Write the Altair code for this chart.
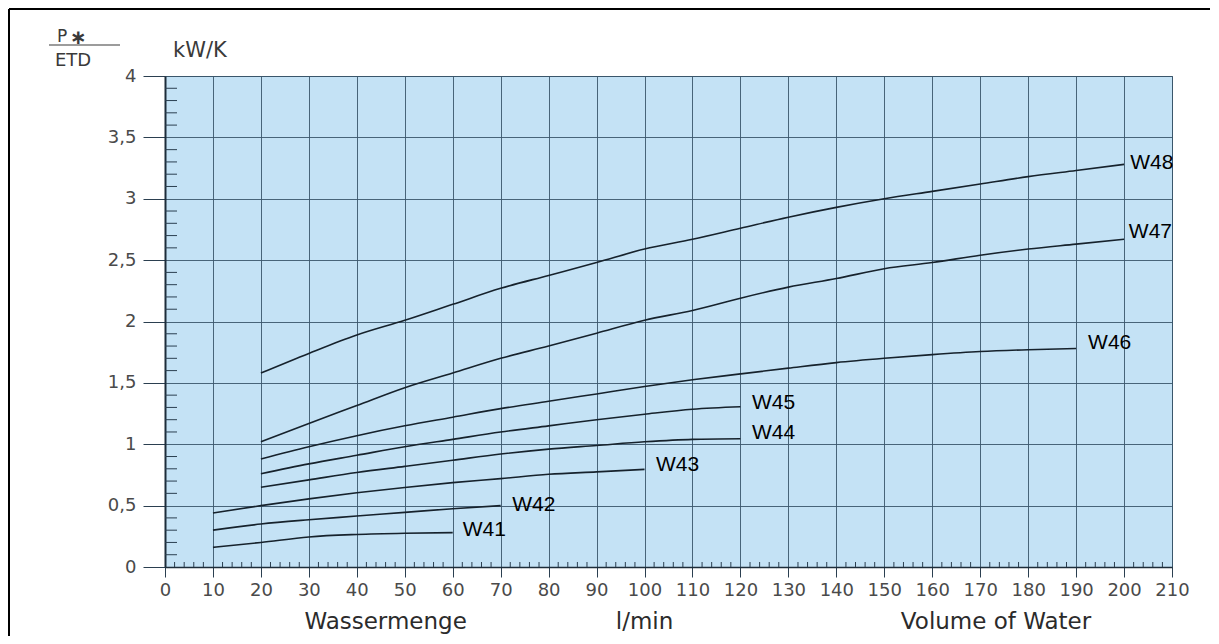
import altair as alt
import pandas as pd

# ---------------- data ----------------
series_names = ["W41", "W42", "W43", "W44", "W45", "W46", "W47", "W48"]

x_W41 = [10, 20, 30, 40, 50, 60]
y_W41 = [0.16, 0.20, 0.245, 0.265, 0.275, 0.28]

x_W42 = [10, 20, 30, 40, 50, 60, 70]
y_W42 = [0.30, 0.35, 0.385, 0.415, 0.445, 0.475, 0.50]

x_W43 = [10, 20, 30, 40, 50, 60, 70, 80, 90, 100]
y_W43 = [0.44, 0.50, 0.555, 0.605, 0.648, 0.687, 0.72, 0.755, 0.775, 0.795]

x_W44 = [20, 30, 40, 50, 60, 70, 80, 90, 100, 110, 120]
y_W44 = [0.65, 0.71, 0.77, 0.82, 0.87, 0.92, 0.96, 0.99, 1.02, 1.04, 1.045]

x_W45 = [20, 30, 40, 50, 60, 70, 80, 90, 100, 110, 120]
y_W45 = [0.76, 0.84, 0.91, 0.98, 1.04, 1.10, 1.15, 1.20, 1.245, 1.285, 1.305]

x_W46 = [20, 30, 40, 50, 60, 70, 80, 90, 100, 110, 120, 130, 140, 150, 160, 170, 180, 190]
y_W46 = [0.88, 0.98, 1.07, 1.15, 1.22, 1.29, 1.35, 1.41, 1.47, 1.525, 1.573, 1.62,
         1.665, 1.70, 1.73, 1.755, 1.77, 1.78]

x_W47 = [20, 30, 40, 50, 60, 70, 80, 90, 100, 110, 120, 130, 140, 150, 160, 170, 180, 190, 200]
y_W47 = [1.02, 1.17, 1.315, 1.46, 1.58, 1.70, 1.80, 1.905, 2.01, 2.09, 2.19, 2.28,
         2.35, 2.43, 2.48, 2.54, 2.59, 2.63, 2.67]

x_W48 = [20, 30, 40, 50, 60, 70, 80, 90, 100, 110, 120, 130, 140, 150, 160, 170, 180, 190, 200]
y_W48 = [1.58, 1.74, 1.89, 2.01, 2.14, 2.27, 2.375, 2.48, 2.59, 2.67, 2.76, 2.85,
         2.93, 3.00, 3.06, 3.12, 3.18, 3.23, 3.28]

# curve label anchors (data units)
label_x = [62.1, 72.4, 102.4, 122.4, 122.4, 192.5, 201.0, 201.3]
label_y = [0.30, 0.505, 0.83, 1.09, 1.336, 1.825, 2.73, 3.29]

# axis ticks
x_ticks = list(range(0, 211, 10))
y_ticks = [0, 0.5, 1, 1.5, 2, 2.5, 3, 3.5, 4]
x_minor = [v for v in range(0, 211, 2) if v % 10 != 0]
y_minor = [round(i / 10, 1) for i in range(0, 41) if i % 5 != 0]

# bottom titles
title_text = ["Wassermenge", "l/min", "Volume of Water"]
title_x = [46, 100, 173.3]

# ---------------- build tables ----------------
xs_all = [x_W41, x_W42, x_W43, x_W44, x_W45, x_W46, x_W47, x_W48]
ys_all = [y_W41, y_W42, y_W43, y_W44, y_W45, y_W46, y_W47, y_W48]
rows = []
for name, xs, ys in zip(series_names, xs_all, ys_all):
    for a, b in zip(xs, ys):
        rows.append({"series": name, "flow": a, "power": b})
curves = pd.DataFrame(rows)
labels = pd.DataFrame({"series": series_names, "lx": label_x, "ly": label_y})
titles = pd.DataFrame({"t": title_text, "tx": title_x})
minor_x_df = pd.DataFrame({"v": x_minor})
minor_y_df = pd.DataFrame({"v": y_minor})
one = alt.Data(values=[{"a": 1}])

W, H = 1007, 491
GRID = "#3b566b"
TICK = "#2b3f50"
xscale = alt.Scale(domain=[0, 210], nice=False, zero=False)
yscale = alt.Scale(domain=[0, 4], nice=False, zero=False)

x_axis = alt.Axis(values=x_ticks, title=None, grid=True, gridColor=GRID, gridWidth=1,
                  gridOpacity=0.9, tickSize=10, tickColor=TICK, tickWidth=1,
                  domainColor="#1d2d3a", domainWidth=1.5, labelFont="DejaVu Sans",
                  labelFontSize=18, labelColor="#4a4a4a", labelPadding=4,
                  labelFlush=False, labelOverlap=False)
y_axis = alt.Axis(values=y_ticks, title=None, grid=True, gridColor=GRID, gridWidth=1,
                  gridOpacity=0.9, tickSize=22, tickColor=TICK, tickWidth=1,
                  domainColor="#1d2d3a", domainWidth=2, labelFont="DejaVu Sans",
                  labelFontSize=18, labelColor="#4a4a4a", labelPadding=7,
                  labelFlush=False, labelOverlap=False,
                  labelExpr="replace(toString(datum.value), '.', ',')")

lines = alt.Chart(curves).mark_line(color="#16222c", strokeWidth=1.6,
                                    interpolate="monotone").encode(
    x=alt.X("flow:Q", scale=xscale, axis=x_axis),
    y=alt.Y("power:Q", scale=yscale, axis=y_axis),
    detail="series:N",
)

minor_y_rules = alt.Chart(minor_y_df).mark_rule(color=TICK, strokeWidth=1).encode(
    y=alt.Y("v:Q", scale=yscale, axis=y_axis),
    x=alt.value(0), x2=alt.value(12),
)
minor_x_rules = alt.Chart(minor_x_df).mark_rule(color=TICK, strokeWidth=1).encode(
    x=alt.X("v:Q", scale=xscale, axis=x_axis),
    y=alt.value(H), y2=alt.value(H - 5),
)

curve_labels = alt.Chart(labels).mark_text(align="left", baseline="middle",
                                           font="Liberation Sans", fontSize=21,
                                           color="black").encode(
    x=alt.X("lx:Q", scale=xscale, axis=x_axis),
    y=alt.Y("ly:Q", scale=yscale, axis=y_axis),
    text="series:N",
)

bottom_titles = alt.Chart(titles).mark_text(align="center", baseline="alphabetic",
                                            font="DejaVu Sans", fontSize=23,
                                            color="#2b2b2b").encode(
    x=alt.X("tx:Q", scale=xscale, axis=x_axis),
    y=alt.value(H + 62),
    text="t:N",
)

unit_text = alt.Chart(one).mark_text(text="kW/K", align="left", baseline="alphabetic",
                                     font="DejaVu Sans", fontSize=21,
                                     color="#3a3a3a").encode(
    x=alt.value(8), y=alt.value(-19))
p_text = alt.Chart(one).mark_text(text="P", align="left", baseline="alphabetic",
                                  font="DejaVu Sans", fontSize=17,
                                  color="#3a3a3a").encode(
    x=alt.value(-108), y=alt.value(-34))
star_text = alt.Chart(one).mark_text(text="∗", align="left", baseline="alphabetic",
                                     font="DejaVu Sans", fontSize=20, fontWeight="bold",
                                     color="#3a3a3a").encode(
    x=alt.value(-95), y=alt.value(-32))
etd_text = alt.Chart(one).mark_text(text="ETD", align="left", baseline="alphabetic",
                                    font="DejaVu Sans", fontSize=18,
                                    color="#3a3a3a").encode(
    x=alt.value(-110), y=alt.value(-10))
frac_line = alt.Chart(one).mark_rule(color="#3a3a3a", strokeWidth=1.2).encode(
    x=alt.value(-116), x2=alt.value(-45), y=alt.value(-31))

frame_top = alt.Chart(one).mark_rule(color="black", strokeWidth=2).encode(
    x=alt.value(-156), x2=alt.value(1050), y=alt.value(-67))
frame_left = alt.Chart(one).mark_rule(color="black", strokeWidth=2).encode(
    x=alt.value(-156), y=alt.value(-67), y2=alt.value(570))

chart = alt.layer(
    lines, minor_y_rules, minor_x_rules, curve_labels, bottom_titles,
    unit_text, p_text, star_text, etd_text, frac_line, frame_top, frame_left,
).properties(
    width=W, height=H,
    padding={"left": 157, "top": 68, "right": 38, "bottom": 69},
    autosize=alt.AutoSizeParams(type="none"),
    background="white",
).configure_view(
    fill="#c4e2f5", stroke=GRID, strokeWidth=1,
)

chart.save("out.html", embed_options={"renderer": "svg", "actions": False})
